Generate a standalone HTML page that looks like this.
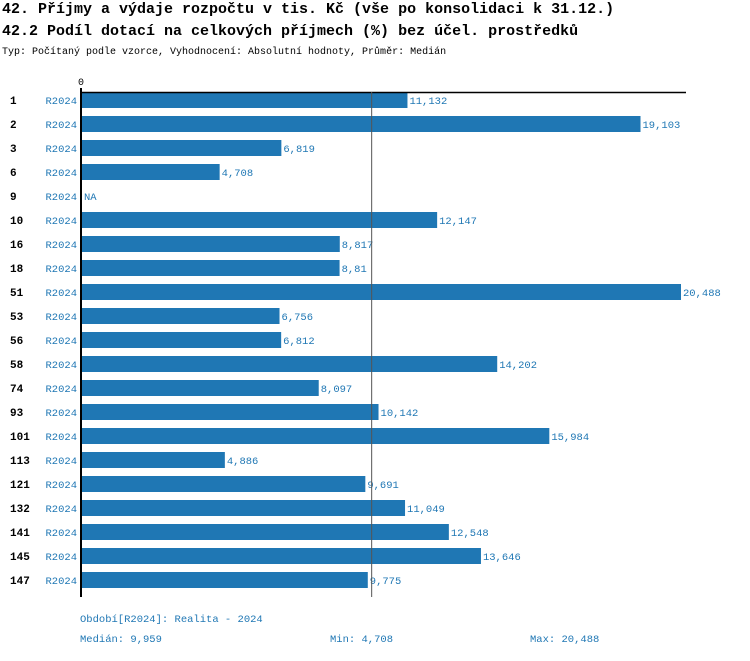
<!DOCTYPE html>
<html><head><meta charset="utf-8"><style>
body{margin:0;background:#fff;width:750px;height:656px;overflow:hidden;font-family:"Liberation Mono",monospace}
svg text{font-family:"Liberation Mono",monospace}
</style></head><body>
<svg id="c" width="750" height="656" xmlns="http://www.w3.org/2000/svg">
<text x="2" y="13" font-size="15" font-weight="bold" fill="#000">42. Příjmy a výdaje rozpočtu v tis. Kč (vše po konsolidaci k 31.12.)</text>
<text x="2" y="35" font-size="15" font-weight="bold" fill="#000">42.2 Podíl dotací na celkových příjmech (%) bez účel. prostředků</text>
<text x="2" y="54" font-size="10" fill="#000">Typ: Počítaný podle vzorce, Vyhodnocení: Absolutní hodnoty, Průměr: Medián</text>
<text x="81" y="85" font-size="10" text-anchor="middle" fill="#000">0</text>
<g id="bars"></g>
<line x1="81" y1="92.5" x2="686" y2="92.5" stroke="#000" stroke-width="1.5"/>
<line x1="81" y1="88" x2="81" y2="597" stroke="#000" stroke-width="2"/>
<line id="med" y1="92" y2="597" stroke="#555" stroke-width="1"/>
<text x="80" y="622" font-size="10.5" fill="#1f77b4">Období[R2024]: Realita - 2024</text>
<text x="80" y="642" font-size="10.5" fill="#1f77b4">Medián: 9,959</text>
<text x="330" y="642" font-size="10.5" fill="#1f77b4">Min: 4,708</text>
<text x="530" y="642" font-size="10.5" fill="#1f77b4">Max: 20,488</text>
</svg>
<script>
const categories=["1","2","3","6","9","10","16","18","51","53","56","58","74","93","101","113","121","132","141","145","147"];
const values=[11.132,19.103,6.819,4.708,null,12.147,8.817,8.81,20.488,6.756,6.812,14.202,8.097,10.142,15.984,4.886,9.691,11.049,12.548,13.646,9.775];
const labels=["11,132","19,103","6,819","4,708","NA","12,147","8,817","8,81","20,488","6,756","6,812","14,202","8,097","10,142","15,984","4,886","9,691","11,049","12,548","13,646","9,775"];
const median=9.959;
const NS="http://www.w3.org/2000/svg";
const x=v=>82+v*(599/20.488);
const y=i=>92+i*24;
const g=document.getElementById('bars');
document.getElementById('med').setAttribute('x1',x(median)-1.5);
document.getElementById('med').setAttribute('x2',x(median)-1.5);
function mk(t,a){const e=document.createElementNS(NS,t);for(const k in a)e.setAttribute(k,a[k]);g.appendChild(e);return e;}
categories.forEach((c,i)=>{
  const cy=y(i);
  const t=mk('text',{x:10,y:cy+12,'font-size':11,'font-weight':'bold',fill:'#000'});t.textContent=c;
  
  
  const p=mk('text',{x:77,y:cy+12,'font-size':10.5,'text-anchor':'end',fill:'#1f77b4'});p.textContent='R2024';
  
  
  const v=values[i];
  let end=84;
  if(v!==null){
    const r=mk('rect',{x:82,y:cy,width:x(v)-82,height:16,fill:'#1f77b4'});
    
    
    end=x(v)+2;
  }
  const l=mk('text',{x:end,y:cy+12,'font-size':10.5,fill:'#1f77b4'});l.textContent=labels[i];
  
  
});
</script>
</body></html>
